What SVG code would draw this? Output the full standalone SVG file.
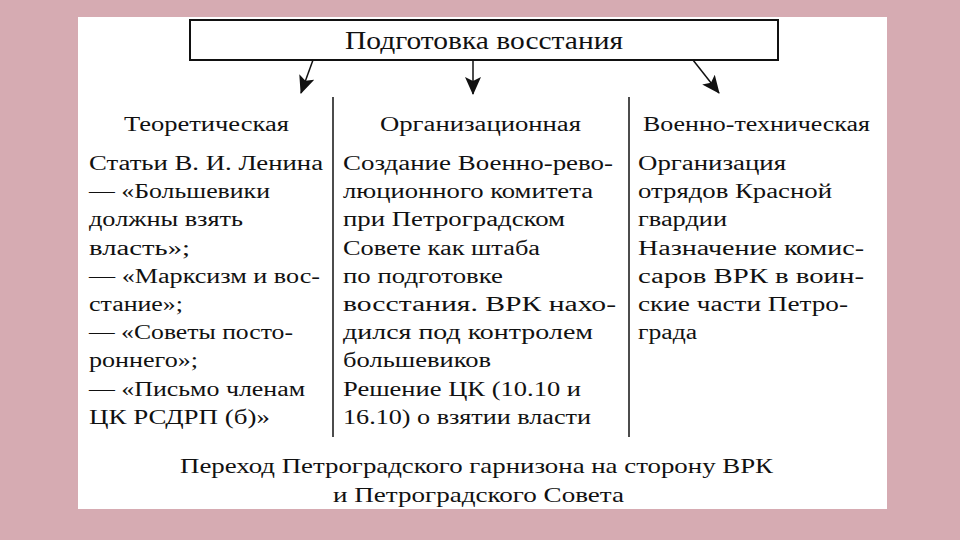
<svg xmlns="http://www.w3.org/2000/svg" width="960" height="540" viewBox="0 0 960 540">
  <defs>
    <style>
      text { font-family: 'Liberation Serif', 'DejaVu Serif', serif; fill: #111; }
      .title { font-size: 25px; }
      .hdr { font-size: 20px; }
      .body { font-size: 20px; }
      .bottom { font-size: 21px; }
      .conn { stroke: #111; stroke-width: 1.5; fill: none; }
      .div { stroke: #111; stroke-width: 1.5; }
    </style>
    <marker id="arr" viewBox="0 0 18 16" refX="17" refY="8" markerWidth="18" markerHeight="16" markerUnits="userSpaceOnUse" orient="auto">
      <path d="M0,0 L18,8 L0,16 L4,8 Z" fill="#111"/>
    </marker>
  </defs>

  <rect x="0" y="0" width="960" height="540" fill="#d6abb2"/>
  <rect x="78" y="17" width="809" height="492" fill="#ffffff"/>

  <g id="title">
    <rect x="190" y="20" width="588" height="40" fill="#ffffff" stroke="#111" stroke-width="2"/>
    <text class="title" x="345" y="49" textLength="278" lengthAdjust="spacingAndGlyphs">Подготовка восстания</text>
  </g>

  <g id="connectors">
    <line class="conn" x1="313" y1="60" x2="301" y2="93" marker-end="url(#arr)"/>
    <line class="conn" x1="473" y1="60" x2="473" y2="94" marker-end="url(#arr)"/>
    <line class="conn" x1="693" y1="60" x2="719" y2="93" marker-end="url(#arr)"/>
  </g>

  <g id="dividers">
    <line class="div" x1="333" y1="97" x2="333" y2="437"/>
    <line class="div" x1="629" y1="97" x2="629" y2="437"/>
  </g>

  <g id="col-theory">
    <text class="hdr" x="124" y="131" textLength="165" lengthAdjust="spacingAndGlyphs">Теоретическая</text>
    <text class="body" x="89" y="170" textLength="234" lengthAdjust="spacingAndGlyphs">Статьи В. И. Ленина</text>
    <text class="body" x="89" y="198" textLength="181" lengthAdjust="spacingAndGlyphs">— «Большевики</text>
    <text class="body" x="89" y="226" textLength="154" lengthAdjust="spacingAndGlyphs">должны взять</text>
    <text class="body" x="89" y="255" textLength="101" lengthAdjust="spacingAndGlyphs">власть»;</text>
    <text class="body" x="89" y="283" textLength="231" lengthAdjust="spacingAndGlyphs">— «Марксизм и вос-</text>
    <text class="body" x="89" y="311" textLength="94" lengthAdjust="spacingAndGlyphs">стание»;</text>
    <text class="body" x="89" y="339" textLength="204" lengthAdjust="spacingAndGlyphs">— «Советы посто-</text>
    <text class="body" x="89" y="367" textLength="109" lengthAdjust="spacingAndGlyphs">роннего»;</text>
    <text class="body" x="89" y="396" textLength="216" lengthAdjust="spacingAndGlyphs">— «Письмо членам</text>
    <text class="body" x="89" y="424" textLength="181" lengthAdjust="spacingAndGlyphs">ЦК РСДРП (б)»</text>
  </g>

  <g id="col-org">
    <text class="hdr" x="380" y="131" textLength="201" lengthAdjust="spacingAndGlyphs">Организационная</text>
    <text class="body" x="343" y="170" textLength="270" lengthAdjust="spacingAndGlyphs">Создание Военно-рево-</text>
    <text class="body" x="343" y="198" textLength="250" lengthAdjust="spacingAndGlyphs">люционного комитета</text>
    <text class="body" x="343" y="226" textLength="222" lengthAdjust="spacingAndGlyphs">при Петроградском</text>
    <text class="body" x="343" y="255" textLength="197" lengthAdjust="spacingAndGlyphs">Совете как штаба</text>
    <text class="body" x="343" y="283" textLength="160" lengthAdjust="spacingAndGlyphs">по подготовке</text>
    <text class="body" x="343" y="311" textLength="273" lengthAdjust="spacingAndGlyphs">восстания. ВРК нахо-</text>
    <text class="body" x="343" y="339" textLength="250" lengthAdjust="spacingAndGlyphs">дился под контролем</text>
    <text class="body" x="343" y="367" textLength="148" lengthAdjust="spacingAndGlyphs">большевиков</text>
    <text class="body" x="343" y="396" textLength="238" lengthAdjust="spacingAndGlyphs">Решение ЦК (10.10 и</text>
    <text class="body" x="343" y="424" textLength="248" lengthAdjust="spacingAndGlyphs">16.10) о взятии власти</text>
  </g>

  <g id="col-mil">
    <text class="hdr" x="643" y="131" textLength="227" lengthAdjust="spacingAndGlyphs">Военно-техническая</text>
    <text class="body" x="638" y="170" textLength="148" lengthAdjust="spacingAndGlyphs">Организация</text>
    <text class="body" x="638" y="198" textLength="194" lengthAdjust="spacingAndGlyphs">отрядов Красной</text>
    <text class="body" x="638" y="226" textLength="89" lengthAdjust="spacingAndGlyphs">гвардии</text>
    <text class="body" x="638" y="255" textLength="226" lengthAdjust="spacingAndGlyphs">Назначение комис-</text>
    <text class="body" x="638" y="283" textLength="226" lengthAdjust="spacingAndGlyphs">саров ВРК в воин-</text>
    <text class="body" x="638" y="311" textLength="210" lengthAdjust="spacingAndGlyphs">ские части Петро-</text>
    <text class="body" x="638" y="339" textLength="59" lengthAdjust="spacingAndGlyphs">града</text>
  </g>

  <g id="result">
    <text class="bottom" x="180" y="473" textLength="593" lengthAdjust="spacingAndGlyphs">Переход Петроградского гарнизона на сторону ВРК</text>
    <text class="bottom" x="333" y="502" textLength="291" lengthAdjust="spacingAndGlyphs">и Петроградского Совета</text>
  </g>
</svg>
